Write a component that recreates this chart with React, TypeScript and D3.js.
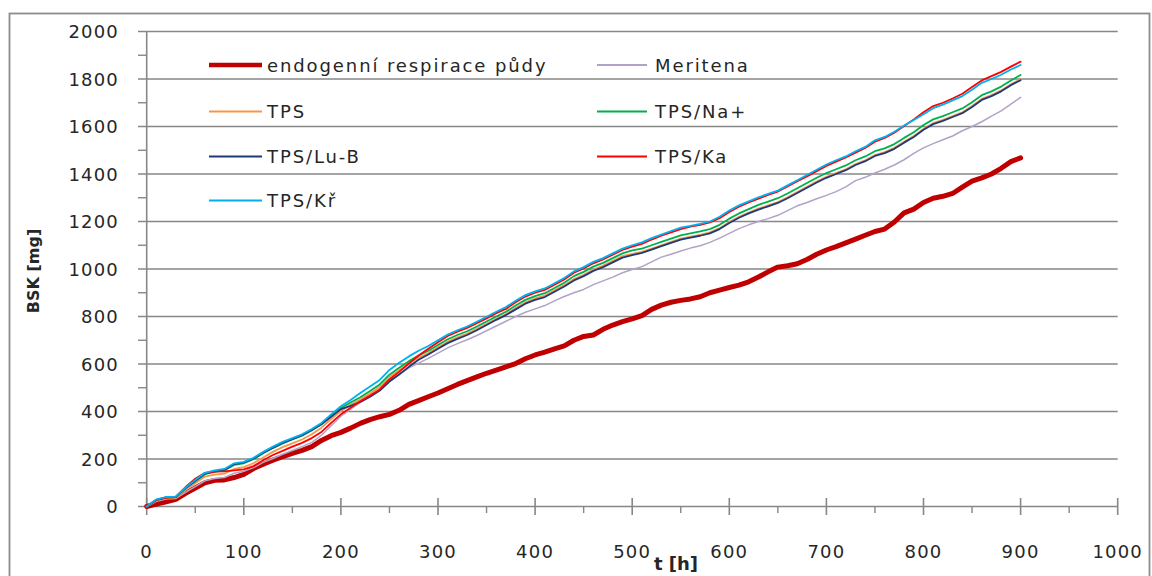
import React from "react";
import * as d3 from "d3";

const hours: number[] = d3.range(0, 901, 10);

const endogenni = [
  0, 10, 20, 30, 55, 78, 100, 110, 112, 122,
  135, 160, 178, 195, 210, 224, 236, 252, 278, 298,
  312, 330, 350, 366, 378, 388, 405, 430, 446, 462,
  478, 496, 514, 530, 546, 561, 574, 588, 602, 622,
  638, 650, 664, 676, 700, 716, 722, 746, 764, 778,
  790, 804, 830, 848, 860, 868, 874, 883, 900, 911,
  922, 932, 946, 966, 988, 1008, 1014, 1022, 1040, 1062,
  1080, 1094, 1110, 1126, 1142, 1158, 1168, 1198, 1236, 1252,
  1280, 1298, 1306, 1318, 1345, 1370, 1384, 1400, 1424, 1452,
  1468,
];

const meritena = [
  0, 22, 32, 34, 60, 84, 108, 118, 122, 140,
  148, 164, 186, 202, 220, 236, 252, 270, 300, 340,
  380, 410, 438, 462, 488, 526, 556, 584, 604, 624,
  646, 668, 686, 702, 720, 740, 760, 780, 800, 818,
  832, 846, 866, 884, 900, 914, 934, 950, 966, 984,
  998, 1010, 1030, 1050, 1062, 1076, 1088, 1098, 1112, 1130,
  1150, 1170, 1186, 1200, 1212, 1226, 1246, 1266, 1280, 1296,
  1310, 1326, 1346, 1372, 1386, 1404, 1420, 1438, 1460, 1487,
  1510, 1528, 1544, 1560, 1582, 1600, 1620, 1644, 1666, 1694,
  1723,
];

const tps = [
  0, 26, 35, 36, 70, 98, 126, 134, 138, 158,
  166, 182, 206, 230, 250, 266, 282, 304, 332, 368,
  402, 428, 450, 476, 503, 544, 574, 602, 626, 646,
  670, 694, 712, 728, 748, 769, 790, 810, 836, 860,
  876, 888, 910, 932, 958, 976, 998, 1014, 1034, 1054,
  1064, 1072, 1086, 1100, 1114, 1128, 1136, 1144, 1154, 1172,
  1198, 1220, 1238, 1254, 1268, 1282, 1302, 1324, 1346, 1368,
  1388, 1404, 1420, 1442, 1458, 1480, 1492, 1510, 1536, 1560,
  1590, 1614, 1628, 1644, 1660, 1686, 1716, 1732, 1752, 1778,
  1799,
];

const tpsNa = [
  0, 28, 38, 40, 77, 106, 136, 146, 152, 175,
  182, 199, 224, 246, 266, 282, 298, 320, 346, 382,
  415, 438, 460, 486, 514, 555, 584, 612, 636, 656,
  680, 704, 722, 738, 758, 779, 800, 820, 846, 870,
  886, 898, 920, 942, 970, 988, 1010, 1026, 1046, 1066,
  1078, 1086, 1100, 1114, 1128, 1142, 1150, 1158, 1168, 1186,
  1212, 1234, 1252, 1270, 1284, 1298, 1318, 1340, 1362, 1384,
  1404, 1420, 1436, 1458, 1474, 1496, 1508, 1526, 1552, 1576,
  1606, 1630, 1644, 1660, 1676, 1702, 1732, 1748, 1768, 1794,
  1817,
];

const tpsLuB = [
  0, 28, 38, 40, 78, 108, 138, 148, 155, 178,
  185, 202, 226, 248, 268, 284, 300, 322, 346, 378,
  410, 424, 440, 462, 488, 526, 556, 588, 618, 640,
  664, 688, 706, 722, 742, 764, 786, 806, 830, 854,
  870, 882, 904, 926, 952, 970, 992, 1008, 1028, 1048,
  1058, 1068, 1082, 1096, 1110, 1124, 1132, 1140, 1150, 1168,
  1194, 1216, 1234, 1250, 1264, 1278, 1298, 1320, 1342, 1364,
  1384, 1400, 1416, 1438, 1454, 1476, 1488, 1506, 1532, 1556,
  1586, 1610, 1624, 1640, 1656, 1682, 1712, 1728, 1748, 1774,
  1795,
];

const tpsKa = [
  0, 28, 37, 40, 82, 117, 142, 147, 148, 152,
  156, 170, 195, 217, 234, 252, 268, 288, 314, 352,
  388, 416, 443, 467, 493, 535, 567, 602, 636, 664,
  692, 718, 736, 752, 772, 792, 814, 832, 860, 884,
  900, 912, 934, 956, 984, 1002, 1024, 1040, 1060, 1080,
  1094, 1106, 1124, 1140, 1154, 1168, 1178, 1186, 1196, 1214,
  1240, 1262, 1280, 1296, 1312, 1326, 1348, 1370, 1390, 1412,
  1434, 1452, 1470, 1490, 1510, 1536, 1552, 1574, 1602, 1630,
  1660, 1686, 1700, 1718, 1738, 1766, 1794, 1812, 1830, 1852,
  1873,
];

const tpsKr = [
  0, 30, 40, 42, 80, 112, 142, 152, 158, 182,
  188, 205, 230, 252, 272, 288, 304, 326, 352, 388,
  422, 448, 478, 505, 533, 575, 605, 632, 656, 676,
  700, 724, 742, 758, 778, 799, 820, 840, 866, 890,
  906, 918, 940, 962, 990, 1008, 1030, 1046, 1066, 1086,
  1100, 1112, 1130, 1145, 1160, 1174, 1182, 1190, 1200, 1220,
  1246, 1268, 1285, 1302, 1316, 1330, 1352, 1374, 1396, 1418,
  1440, 1458, 1474, 1496, 1514, 1542, 1556, 1578, 1604, 1627,
  1652, 1677, 1692, 1710, 1728, 1755, 1784, 1800, 1818, 1840,
  1859,
];

const xTicks = [0, 100, 200, 300, 400, 500, 600, 700, 800, 900, 1000];
const xMinorTicks = [50, 150, 250, 350, 450, 550, 650, 750, 850, 950];
const yTicks = [0, 200, 400, 600, 800, 1000, 1200, 1400, 1600, 1800, 2000];
const yMinorTicks = [100, 300, 500, 700, 900, 1100, 1300, 1500, 1700, 1900];

const seriesNames = [
  "endogenní respirace půdy",
  "Meritena",
  "TPS",
  "TPS/Na+",
  "TPS/Lu-B",
  "TPS/Ka",
  "TPS/Kř",
];
const seriesValues = [endogenni, meritena, tps, tpsNa, tpsLuB, tpsKa, tpsKr];
const seriesColors = ["#C00000", "#B3A2C7", "#F79646", "#00B050", "#1F3A7A", "#FF0000", "#00B0F0"];
const seriesWidths = [5, 1.5, 1.8, 1.8, 1.8, 1.8, 1.8];

const xAxisTitle = "t [h]";
const yAxisTitle = "BSK [mg]";

export default function App() {
  const W = 1152;
  const H = 576;
  const x = d3.scaleLinear().domain([0, 1000]).range([146.7, 1117.7]);
  const y = d3.scaleLinear().domain([0, 2000]).range([506.5, 31.5]);
  const line = d3
    .line<[number, number]>()
    .x((d) => x(d[0]))
    .y((d) => y(d[1]));

  const grid = "#878787";
  const font = "'DejaVu Sans', sans-serif";
  const textColor = "#262626";

  const legendRows = [65, 111.5, 156.5, 200.5];
  const legendCols = [
    { x1: 209, x2: 262, tx: 267 },
    { x1: 597, x2: 647, tx: 655 },
  ];

  return (
    <svg
      width={W}
      height={H}
      style={{ position: "absolute", left: 0, top: 0, background: "#fff" }}
    >
      <rect x={0} y={0} width={W} height={H} fill="#fff" />
      {/* outer frame */}
      <rect x={9.5} y={13.5} width={1140} height={600} fill="none" stroke="#8c8c8c" strokeWidth={1.8} />

      {/* gridlines + major y ticks */}
      {yTicks.map((t) => (
        <line
          key={"g" + t}
          x1={138}
          x2={x(1000)}
          y1={y(t)}
          y2={y(t)}
          stroke={grid}
          strokeWidth={1.6}
        />
      ))}
      {yMinorTicks.map((t) => (
        <line key={"ym" + t} x1={138} x2={x(0)} y1={y(t)} y2={y(t)} stroke={grid} strokeWidth={1.4} />
      ))}
      {/* y axis */}
      <line x1={x(0)} x2={x(0)} y1={y(2000)} y2={y(0)} stroke={grid} strokeWidth={1.6} />
      {/* x axis ticks */}
      {xTicks.map((t) => (
        <line key={"xt" + t} x1={x(t)} x2={x(t)} y1={498} y2={515} stroke={grid} strokeWidth={1.6} />
      ))}
      {xMinorTicks.map((t) => (
        <line key={"xm" + t} x1={x(t)} x2={x(t)} y1={y(0)} y2={513} stroke={grid} strokeWidth={1.4} />
      ))}

      {/* y tick labels */}
      {yTicks.map((t) => (
        <text
          key={"yl" + t}
          x={119}
          y={y(t)}
          textAnchor="end"
          dominantBaseline="central"
          fontFamily={font}
          fontSize={18}
          letterSpacing={1.2}
          fill={textColor}
        >
          {t}
        </text>
      ))}
      {/* x tick labels */}
      {xTicks.map((t) => (
        <text
          key={"xl" + t}
          x={x(t)}
          y={551}
          textAnchor="middle"
          dominantBaseline="central"
          fontFamily={font}
          fontSize={18}
          letterSpacing={1.2}
          fill={textColor}
        >
          {t}
        </text>
      ))}

      {/* axis titles */}
      <text
        x={676}
        y={570}
        textAnchor="middle"
        fontFamily={font}
        fontSize={18}
        fontWeight="bold"
        fill={textColor}
      >
        {xAxisTitle}
      </text>
      <text
        transform={`translate(39,271) rotate(-90)`}
        textAnchor="middle"
        fontFamily={font}
        fontSize={16}
        fontWeight="bold"
        fill={textColor}
      >
        {yAxisTitle}
      </text>

      {/* series */}
      <g fill="none" strokeLinejoin="round" strokeLinecap="round">
        {seriesValues.map((vals, i) => (
          <path
            key={"s" + i}
            d={line(hours.map((h, j) => [h, vals[j]] as [number, number])) || ""}
            stroke={seriesColors[i]}
            strokeWidth={seriesWidths[i]}
          />
        ))}
      </g>

      {/* legend */}
      {seriesNames.map((name, i) => {
        const col = legendCols[i % 2];
        const ry = legendRows[Math.floor(i / 2)];
        return (
          <g key={"lg" + i}>
            <line
              x1={col.x1}
              x2={col.x2}
              y1={ry}
              y2={ry}
              stroke={seriesColors[i]}
              strokeWidth={i === 0 ? 4.5 : 2}
            />
            <text
              x={col.tx}
              y={ry}
              dominantBaseline="central"
              fontFamily={font}
              fontSize={18}
              letterSpacing={1.9}
              fill={textColor}
            >
              {name}
            </text>
          </g>
        );
      })}
    </svg>
  );
}
